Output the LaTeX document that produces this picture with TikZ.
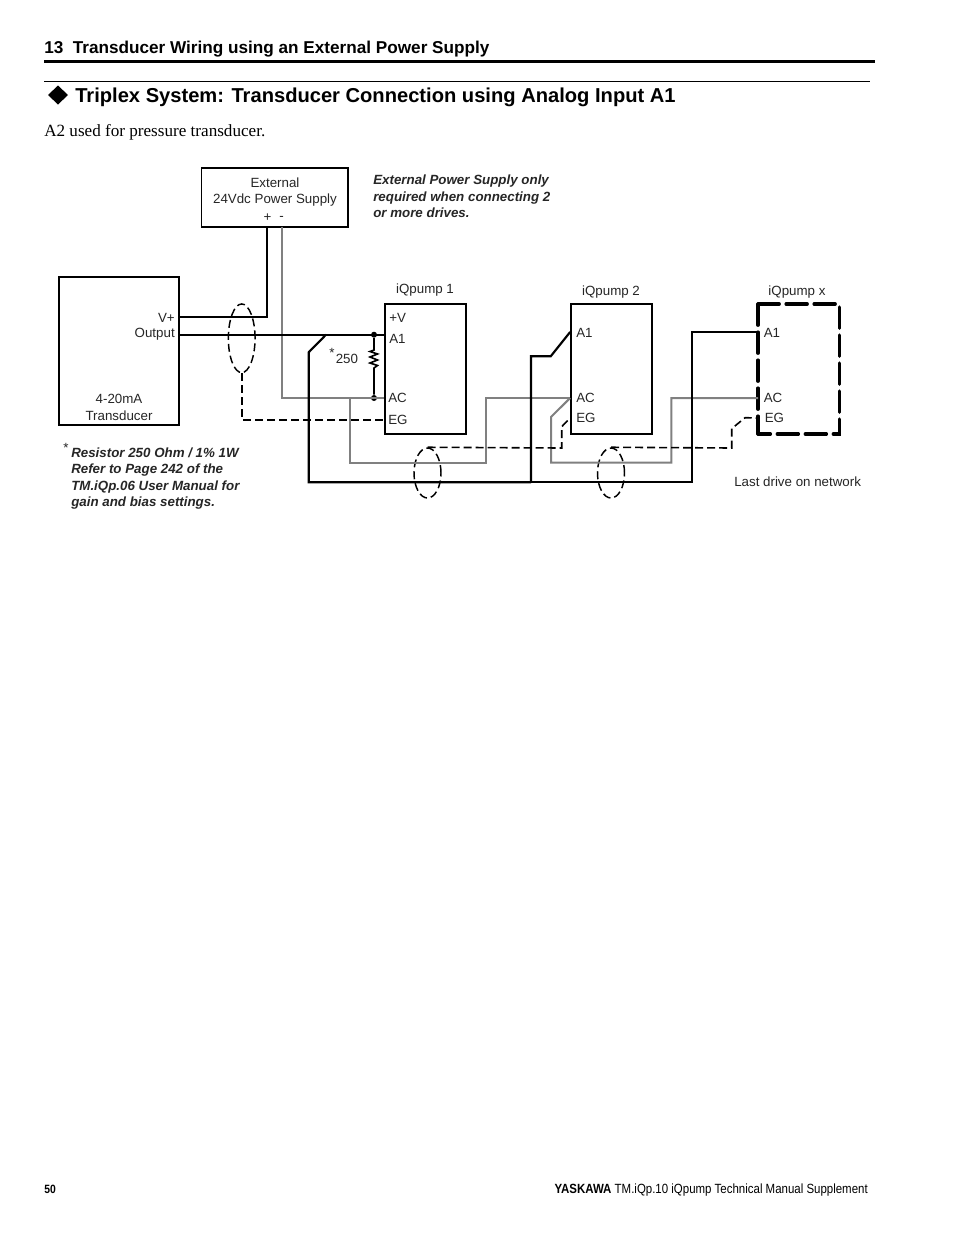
\documentclass[tikz,border=0pt]{standalone}
\usepackage{fontspec}
\usetikzlibrary{shapes.geometric}
\setmainfont{Liberation Sans}
\newfontfamily\timesf{Liberation Serif}
\newfontfamily\condf[FakeStretch=0.86]{Liberation Sans}
\begin{document}
\begin{tikzpicture}[x=0.75pt,y=-0.75pt,
  lbl/.style={inner sep=0pt,font=\fontsize{10}{12}\selectfont,text=black!85},
  rlbl/.style={lbl,anchor=east},
  llbl/.style={lbl,anchor=west},
  box/.style={draw=black,line width=1.35pt,inner sep=0pt},
  blk/.style={draw=black,line width=1.6pt,line join=miter},
  blkthin/.style={draw=black,line width=1.35pt},
  gry/.style={draw=black!50,line width=1.5pt},
  dsh/.style={draw=black,line width=1.2pt,dash pattern=on 6pt off 3pt},
  shield/.style={ellipse,draw=black,line width=1.1pt,dash pattern=on 6pt off 3pt,inner sep=0pt},
  note/.style={inner sep=0pt,anchor=north west,align=left,font=\fontsize{10}{12.2}\selectfont\bfseries\itshape,text=black!85},
  dot/.style={circle,fill=black,inner sep=0pt,minimum size=4.5pt}]
\useasboundingbox (0,0) rectangle (954,1235);
\fill[white] (0,0) rectangle (954,1235);
% page heading
\node[inner sep=0pt,anchor=west,font=\fontsize{12.87}{15}\selectfont\bfseries] (chap) at (44,49.5) {13\ \ Transducer Wiring using an External Power Supply};
\coordinate (r1a) at (44,61.5); \coordinate (r1b) at (875,61.5);
\draw[line width=2.1pt] (r1a) -- (r1b);
\coordinate (r2a) at (44,81.5); \coordinate (r2b) at (870,81.5);
\draw[line width=0.6pt] (r2a) -- (r2b);
\node[inner sep=0pt,anchor=west,font=\fontsize{15.1}{18}\selectfont\bfseries] (title) at (75,97) {Triplex System: Transducer Connection using Analog Input A1};
\fill (48,95) -- (58,85.5) -- (68,95) -- (58,104.5) -- cycle;
\node[inner sep=0pt,anchor=west,font=\fontsize{12.84}{14}\selectfont\timesf] (sub) at (44,132) {A2 used for pressure transducer.};
% boxes
\node[box,minimum width=146.5pt*0.75,minimum height=58.7pt*0.75] (ext) at (274.8,197.3) {};
\node[box,minimum width=120.3pt*0.75,minimum height=148.3pt*0.75] (trans) at (118.9,350.9) {};
\node[box,minimum width=81.3pt*0.75,minimum height=129.7pt*0.75] (p1) at (425.4,368.9) {};
\node[box,minimum width=81.3pt*0.75,minimum height=130.6pt*0.75] (p2) at (611.7,369) {};
\coordinate (xtl) at (758,304); \coordinate (xtr) at (839.5,304);
\coordinate (xbl) at (758,434); \coordinate (xbr) at (839.5,434);
% pump x dashed outline
\draw[line width=2.3pt,dash pattern=on 16pt off 5pt,line cap=round] (xtl) -- (xbl);
\draw[line width=2.3pt,dash pattern=on 16pt off 5pt,line cap=round] (xtl) -- (xtr);
\draw[line width=2.3pt,dash pattern=on 16pt off 5pt,line cap=round] (xtr) ++(0,3) -- (xbr) -- (xbl);
% box labels
\node[lbl,align=center,font=\fontsize{10}{12}\selectfont] (extT) at (275,192) {External\\24Vdc Power Supply};
\node[lbl,anchor=center] (plus) at (267.5,218) {+};
\node[lbl,anchor=center] (minus) at (281.5,218.5) {-};
\node[rlbl] (vp) at (175,317.5) {V+};
\node[rlbl] (outp) at (175,334) {Output};
\node[lbl,align=center,font=\fontsize{10}{12.8}\selectfont] (tn) at (119,407.5) {4-20mA\\Transducer};
\node[lbl] (n1) at (425,290) {iQpump 1};
\node[lbl] (n2) at (611,292) {iQpump 2};
\node[lbl] (nx) at (797,292) {iQpump x};
\node[llbl] (a) at (389,317.5) {+V};
\node[llbl] (b) at (389,338.5) {A1};
\node[llbl] (c) at (388,397.8) {AC};
\node[llbl] (d) at (388,419.8) {EG};
\node[llbl] (e) at (576,333) {A1};
\node[llbl] (f) at (576,397.8) {AC};
\node[llbl] (g) at (576,417.8) {EG};
\node[llbl] (h) at (763.5,333) {A1};
\node[llbl] (i) at (763.5,397.8) {AC};
\node[llbl] (j) at (764.5,417.8) {EG};
\node[llbl] (lastd) at (734,482) {Last drive on network};
\node[llbl] (r250) at (335.5,359) {250};
\node[lbl,anchor=center] (star1) at (332,353) {*};
\node[lbl,anchor=center] (star2) at (66,448) {*};
\node[note] (note1) at (373,175) {External Power Supply only\\required when connecting 2\\or more drives.};
\node[note] (note2) at (71,447.7) {Resistor 250 Ohm / 1\% 1W\\Refer to Page 242 of the\\TM.iQp.06 User Manual for\\gain and bias settings.};
% pins
\coordinate (tV) at (trans.east |- 0,317.3);
\coordinate (tO) at (trans.east |- 0,334.7);
\coordinate (eP) at (267,226.7);
\coordinate (eM) at (281.7,226.7);
\coordinate (p1A1) at (p1.west |- 0,334.7);
\coordinate (p1AC) at (p1.west |- 0,398);
\coordinate (p1EG) at (p1.west |- 0,420);
\coordinate (p2A1) at (p2.west |- 0,332);
\coordinate (p2AC) at (p2.west |- 0,398);
\coordinate (p2EG) at (p2.west |- 0,418);
\coordinate (pxA1) at (758,332);
\coordinate (pxAC) at (758,398);
\coordinate (pxEG) at (758,418);
\node[dot] (d1) at (374,334.7) {};
\node[dot] (d2) at (374,398) {};
% shields
\node[shield,minimum width=26.7pt*0.75,minimum height=68.7pt*0.75] (s1) at (241.7,338.3) {};
\node[shield,minimum width=27pt*0.75,minimum height=50pt*0.75] (s2) at (427.5,473) {};
\node[shield,minimum width=27pt*0.75,minimum height=50pt*0.75] (s3) at (611,473) {};
% grey wires
\draw[gry,line join=miter] (eM) |- (p1AC);
\draw[gry] (350,398) |- (485.7,462.7) |- (p2AC);
\draw[gry] (p2AC) -- (551,417) |- (671.3,462.7) |- (pxAC);
% black wires
\draw[blkthin] (tV) -| (eP);
\draw[blk] (tO) -- (p1A1);
\draw[blk] (326,334.7) -- (308.7,352.3) |- (531,482.3);
\draw[blk] (531,482.3) -- (531,356.3) -- (550.7,356.3) -- (p2A1);
\draw[blkthin] (531,482.3) -- (691.7,482.3) |- (pxA1);
% resistor
\draw[blkthin,line width=1.2pt] (d1) -- (374,350) -- (370,351.5) -- (377.5,354) -- (370,357) -- (377.5,360) -- (370,363) -- (377.5,365.5) -- (374,368) -- (d2);
% shield drains
\draw[dsh] (s1.south) |- (p1EG);
\draw[dsh] (s2.north) -- (561.7,448) -- (561.7,426.7) -- (p2EG);
\draw[dsh] (s3.north) -- (731.7,448) -- (731.7,428.7) -- (745,417.7) -- (pxEG);
% footer
\node[inner sep=0pt,anchor=west,font=\fontsize{9}{11}\selectfont\condf\bfseries] (pg) at (44,1189.5) {50};
\node[inner sep=0pt,anchor=east,font=\fontsize{10}{11}\selectfont\condf] (foot) at (868,1190.5) {{\bfseries YASKAWA} TM.iQp.10 iQpump Technical Manual Supplement};
\end{tikzpicture}
\end{document}
